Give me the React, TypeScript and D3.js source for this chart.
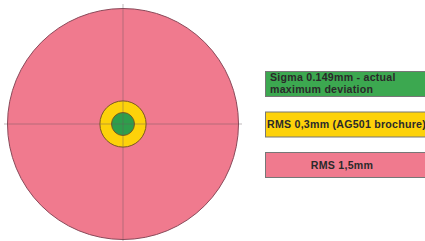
import React from 'react'
import { scaleLinear } from 'd3'

// circle radii in mm, drawn largest first
const rings = ['RMS 1,5mm', 'RMS 0,3mm', 'Sigma 0.149mm']
const radiiMm = [1.5, 0.3, 0.149]
const ringColors = ['#F07A8E', '#FDD20A', '#2E9E4C']

// legend, top to bottom
const legendLines = [
  ['Sigma 0.149mm - actual', 'maximum deviation'],
  ['RMS 0,3mm (AG501 brochure)'],
  ['RMS 1,5mm'],
]
const legendColors = ['#3CA850', '#FDD20A', '#F07A8E']
const legendAlign = ['start', 'start', 'middle']

const W = 425
const H = 241
const cx = 123
const cy = 124

export default function App() {
  const r = scaleLinear().domain([0, 1.5]).range([0, 115.5])
  const boxY = scaleLinear().domain([0, 2]).range([71, 152])
  const boxX = 265
  const boxW = 158

  return (
    <svg
      width={W}
      height={H}
      style={{ position: 'absolute', left: 0, top: 0, background: '#fff' }}
      fontFamily="'Liberation Sans', Arial, sans-serif"
    >
      {rings.map((name, i) => (
        <circle
          key={name}
          cx={cx}
          cy={cy}
          r={r(radiiMm[i])}
          fill={ringColors[i]}
          stroke={i === 0 ? '#8a4a5a' : '#7a5a20'}
          strokeWidth={1}
        />
      ))}
      {/* crosshair */}
      <line x1={4} x2={242} y1={cy} y2={cy} stroke="#6a5a5e" strokeWidth={0.7} opacity={0.6} />
      <line x1={cx} x2={cx} y1={4} y2={241} stroke="#6a5a5e" strokeWidth={0.7} opacity={0.6} />

      {legendLines.map((lines, i) => {
        const y = boxY(i)
        const x = legendAlign[i] === 'middle' ? boxX + 77 : boxX + 5
        return (
          <g key={i}>
            <rect x={boxX + 0.5} y={y + 0.5} width={boxW + 5} height={25} fill={legendColors[i]} stroke="#777" strokeWidth={1} />
            {lines.map((t, j) => (
              <text
                key={t}
                x={x}
                y={lines.length === 1 ? y + 16.5 : y + 10 + j * 11.5}
                fontSize={10.6}
                letterSpacing={0.25}
                fontWeight="bold"
                fill="#2a2a2a"
                textAnchor={legendAlign[i]}
                dx={i === 1 ? -3 : 0}
              >
                {t}
              </text>
            ))}
          </g>
        )
      })}
    </svg>
  )
}
